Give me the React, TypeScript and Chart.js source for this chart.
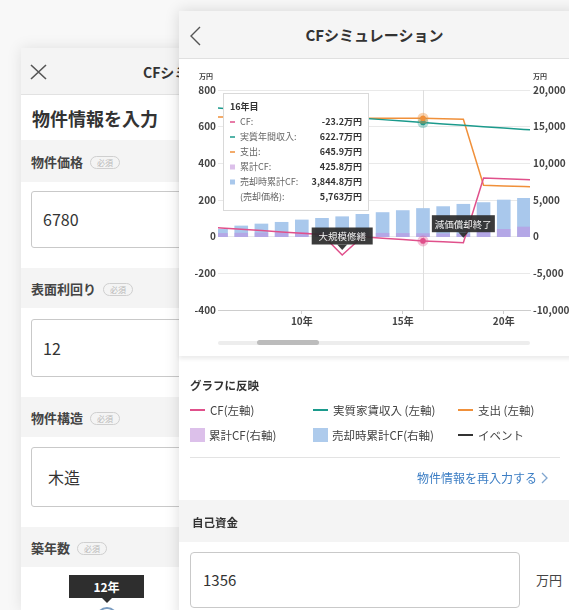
import React, { useEffect, useRef } from 'react';
import { Chart, registerables } from 'chart.js';

Chart.register(...registerables);

// ---- data ----
const years = [5, 6, 7, 8, 9, 10, 11, 12, 13, 14, 15, 16, 17, 18, 19, 20, 21, 22];
const rentalIncome = [707.7, 700.0, 692.3, 684.6, 676.9, 669.2, 661.5, 653.8, 646.1, 638.4, 630.5, 622.7, 615.2, 607.7, 600.2, 592.7, 585.2, 577.7];
const expenses = [653.7, 653.0, 652.3, 651.6, 650.9, 650.2, 649.5, 753.8, 646.1, 646.4, 646.5, 645.9, 643.2, 640.7, 280.2, 276.7, 273.2, 269.7];
const cashFlow = [54, 47, 40, 33, 26, 19, 12, -100, 0, -8, -16, -23.2, -28, -33, 320, 316, 312, 308];
const cumulativeCF = [396, 443, 483, 516, 542, 561, 573, 473, 473, 465, 449, 425.8, 397.8, 364.8, 684.8, 1000.8, 1312.8, 1620.8];
const saleCumulativeCF = [700, 1000, 1460, 1730, 1960, 2280, 2500, 2720, 3050, 3290, 3560, 3844.8, 4100, 4420, 4650, 5000, 5230, 5450];
const xTickYears = [10, 15, 20];
const eventYears = [12, 18];
const eventLabels = ['大規模修繕', '減価償却終了'];
const hoverYear = 16;
const hoverSalePrice = 5763;
const tooltipLabels = ['CF:', '実質年間収入:', '支出:', '累計CF:', '売却時累計CF:', '(売却価格):'];

const FONT = '"Noto Sans CJK JP", "Noto Sans", sans-serif';
const PINK = '#e0508b';
const TEAL = '#1b9a8c';
const ORANGE = '#f0903a';
const BLUE = '#a9c8ec';
const PURPLE = 'rgba(190,140,225,0.55)';

const fmt1 = (v: number) =>
  v.toLocaleString('en-US', { minimumFractionDigits: 1, maximumFractionDigits: 1 }) + '万円';

const overlayPlugin = {
  id: 'cfOverlay',
  beforeDatasetsDraw(chart: any) {
    const { ctx, chartArea } = chart;
    const x = chart.scales.x.getPixelForValue(hoverYear);
    ctx.save();
    ctx.strokeStyle = '#dedede';
    ctx.lineWidth = 1;
    ctx.beginPath();
    ctx.moveTo(Math.round(x) + 0.5, chartArea.top);
    ctx.lineTo(Math.round(x) + 0.5, chartArea.bottom);
    ctx.stroke();
    ctx.restore();
  },
  afterDatasetsDraw(chart: any) {
    const { ctx } = chart;
    const xs = chart.scales.x;
    const yL = chart.scales.yL;
    const hi = years.indexOf(hoverYear);
    const hx = xs.getPixelForValue(hoverYear);
    ctx.save();
    const dots = [
      { v: rentalIncome[hi], c: TEAL, h: 'rgba(27,154,140,0.35)' },
      { v: expenses[hi], c: ORANGE, h: 'rgba(240,144,58,0.4)' },
      { v: cashFlow[hi], c: PINK, h: 'rgba(224,80,139,0.35)' },
    ];
    dots.forEach((d) => {
      const y = yL.getPixelForValue(d.v);
      ctx.fillStyle = d.h;
      ctx.beginPath();
      ctx.arc(hx, y, 5.5, 0, Math.PI * 2);
      ctx.fill();
      ctx.fillStyle = d.c;
      ctx.beginPath();
      ctx.arc(hx, y, 2.8, 0, Math.PI * 2);
      ctx.fill();
    });
    // events
    ctx.font = `9.5px ${FONT}`;
    eventYears.forEach((yr, k) => {
      const i = years.indexOf(yr);
      const x = xs.getPixelForValue(yr);
      const y = yL.getPixelForValue(cashFlow[i]);
      const label = eventLabels[k];
      const tw = ctx.measureText(label).width;
      const bw = Math.max(61, tw + 6);
      const bh = 17;
      const bottom = y - 10.5;
      ctx.fillStyle = 'rgba(44,44,44,0.93)';
      ctx.fillRect(x - bw / 2, bottom - bh, bw, bh);
      ctx.beginPath();
      ctx.moveTo(x - 5, bottom);
      ctx.lineTo(x + 5, bottom);
      ctx.lineTo(x, bottom + 5.5);
      ctx.closePath();
      ctx.fill();
      ctx.fillStyle = '#f2f2f2';
      ctx.textAlign = 'center';
      ctx.textBaseline = 'middle';
      ctx.fillText(label, x, bottom - bh / 2 + 0.5);
    });
    ctx.restore();
  },
  afterDraw(chart: any) {
    const { ctx, chartArea } = chart;
    ctx.save();
    // unit labels
    ctx.font = `bold 7px ${FONT}`;
    ctx.fillStyle = '#444';
    ctx.textBaseline = 'middle';
    ctx.textAlign = 'center';
    ctx.fillText('万円', chartArea.left - 12, chartArea.top - 14);
    ctx.textAlign = 'left';
    ctx.fillText('万円', chartArea.right + 3, chartArea.top - 14);

    // tooltip
    const hi = years.indexOf(hoverYear);
    const bx = chartArea.left + 5;
    const by = chartArea.top + 3;
    const bw = 145;
    const bh = 117;
    ctx.fillStyle = '#ffffff';
    ctx.fillRect(bx, by, bw, bh);
    ctx.strokeStyle = '#d9d9d9';
    ctx.lineWidth = 1;
    ctx.strokeRect(bx + 0.5, by + 0.5, bw, bh);
    ctx.font = `bold 9px ${FONT}`;
    ctx.fillStyle = '#333';
    ctx.textAlign = 'left';
    ctx.fillText(`${hoverYear}年目`, bx + 7, by + 14);
    const rows = [
      { label: tooltipLabels[0], value: fmt1(cashFlow[hi]), color: PINK, kind: 'line' },
      { label: tooltipLabels[1], value: fmt1(rentalIncome[hi]), color: TEAL, kind: 'line' },
      { label: tooltipLabels[2], value: fmt1(expenses[hi]), color: ORANGE, kind: 'line' },
      { label: tooltipLabels[3], value: fmt1(cumulativeCF[hi]), color: '#dcc0ea', kind: 'box' },
      { label: tooltipLabels[4], value: fmt1(saleCumulativeCF[hi]), color: BLUE, kind: 'box' },
      { label: tooltipLabels[5], value: hoverSalePrice.toLocaleString('en-US') + '万円', color: '', kind: 'none' },
    ];
    rows.forEach((r, k) => {
      const y = by + 29 + k * 15;
      if (r.kind === 'line') {
        ctx.fillStyle = r.color;
        ctx.fillRect(bx + 7, y - 0.75, 5, 1.5);
      } else if (r.kind === 'box') {
        ctx.fillStyle = r.color;
        ctx.fillRect(bx + 7, y - 2.5, 5, 5);
      }
      ctx.font = `9px ${FONT}`;
      ctx.fillStyle = '#666';
      ctx.textAlign = 'left';
      ctx.fillText(r.label, bx + 17, y);
      ctx.font = `bold 9px ${FONT}`;
      ctx.fillStyle = '#333';
      ctx.textAlign = 'right';
      ctx.fillText(r.value, bx + bw - 6, y);
    });
    ctx.restore();
  },
};

const abs = (l: number, t: number, w: number, h: number, extra: any = {}) => ({
  position: 'absolute' as const,
  left: l,
  top: t,
  width: w,
  height: h,
  boxSizing: 'border-box' as const,
  ...extra,
});

function Badge() {
  return (
    <span
      style={{
        display: 'inline-block',
        marginLeft: 7,
        height: 13,
        lineHeight: '11px',
        padding: '0 6px',
        border: '1px solid #cfcfcf',
        borderRadius: 7,
        fontSize: 8,
        color: '#b8b8b8',
        fontWeight: 400,
        verticalAlign: 'middle',
        boxSizing: 'border-box',
      }}
    >
      必須
    </span>
  );
}

function BackSection({ top, h, label }: { top: number; h: number; label: string }) {
  return (
    <div style={abs(21, top, 360, h, { background: '#f4f4f4' })}>
      <div
        style={{
          position: 'absolute',
          left: 10,
          top: 0,
          height: h,
          lineHeight: `${h}px`,
          fontSize: 13,
          fontWeight: 700,
          color: '#444',
          whiteSpace: 'nowrap',
        }}
      >
        <span style={{ verticalAlign: 'middle' }}>{label}</span>
        <Badge />
      </div>
    </div>
  );
}

function BackInput({ top, h, text, pad }: { top: number; h: number; text: string; pad: number }) {
  return (
    <div
      style={abs(31, top, 320, h, {
        border: '1px solid #c9c9c9',
        borderRadius: 3,
        background: '#fff',
        paddingLeft: pad,
        lineHeight: `${h - 2}px`,
        fontSize: 16,
        color: '#333',
      })}
    >
      {text}
    </div>
  );
}

function LegendLine({ x, y, color, text }: { x: number; y: number; color: string; text: string }) {
  return (
    <>
      <div style={abs(x, y - 1, 15, 2, { background: color })} />
      <div style={abs(x + 20, y - 9, 140, 18, { fontSize: 11.5, lineHeight: '18px', color: '#444', whiteSpace: 'nowrap' })}>
        {text}
      </div>
    </>
  );
}

function LegendBox({ x, y, color, text }: { x: number; y: number; color: string; text: string }) {
  return (
    <>
      <div style={abs(x, y - 7, 15, 14, { background: color })} />
      <div style={abs(x + 19, y - 9, 140, 18, { fontSize: 11.5, lineHeight: '18px', color: '#444', whiteSpace: 'nowrap' })}>
        {text}
      </div>
    </>
  );
}

export default function App() {
  const canvasRef = useRef<HTMLCanvasElement>(null);

  useEffect(() => {
    const canvas = canvasRef.current;
    if (!canvas) return;
    Chart.defaults.font.family = FONT;
    const pts = (arr: number[]) => years.map((x, i) => ({ x, y: arr[i] }));
    const chart = new Chart(canvas, {
      type: 'bar',
      data: {
        datasets: [
          { type: 'line', label: 'CF', data: pts(cashFlow), borderColor: PINK, borderWidth: 1.5, pointRadius: 0, yAxisID: 'yL', order: 0, tension: 0 } as any,
          { type: 'line', label: '実質家賃収入', data: pts(rentalIncome), borderColor: TEAL, borderWidth: 1.5, pointRadius: 0, yAxisID: 'yL', order: 0, tension: 0 } as any,
          { type: 'line', label: '支出', data: pts(expenses), borderColor: ORANGE, borderWidth: 1.5, pointRadius: 0, yAxisID: 'yL', order: 0, tension: 0 } as any,
          { type: 'bar', label: '累計CF', data: pts(cumulativeCF), backgroundColor: PURPLE, yAxisID: 'yR', order: 1, grouped: false, barThickness: 13 } as any,
          { type: 'bar', label: '売却時累計CF', data: pts(saleCumulativeCF), backgroundColor: BLUE, yAxisID: 'yR', order: 2, grouped: false, barThickness: 13 } as any,
        ],
      },
      options: {
        responsive: false,
        animation: false,
        events: [],
        layout: { padding: { top: 30, bottom: 23, left: 0, right: 0 } },
        plugins: { legend: { display: false }, tooltip: { enabled: false } },
        scales: {
          x: {
            type: 'linear',
            min: 5.85,
            max: 21.3,
            offset: false,
            afterBuildTicks: (s: any) => {
              s.ticks = xTickYears.map((v) => ({ value: v }));
            },
            afterFit: (s: any) => {
              s.height = 22;
            },
            grid: { drawOnChartArea: false, drawTicks: true, tickLength: 4, color: '#cfcfcf', offset: false },
            border: { display: true, color: '#cdcdcd' },
            ticks: {
              callback: (v: any) => `${v}年`,
              font: { size: 10, weight: 'bold' },
              color: '#444',
              padding: 1,
              maxRotation: 0,
              autoSkip: false,
            },
          } as any,
          yL: {
            position: 'left',
            min: -400,
            max: 800,
            afterFit: (s: any) => {
              s.width = 38;
            },
            grid: { color: '#e9e9e9', drawTicks: false },
            border: { display: false },
            ticks: { stepSize: 200, padding: 2, font: { size: 10, weight: 'bold' }, color: '#444' },
          } as any,
          yR: {
            position: 'right',
            min: -10000,
            max: 20000,
            afterFit: (s: any) => {
              s.width = 39;
            },
            grid: { display: false, drawTicks: false },
            border: { display: false },
            ticks: {
              stepSize: 5000,
              padding: 3,
              font: { size: 10, weight: 'bold' },
              color: '#444',
              callback: (v: any) => Number(v).toLocaleString('en-US'),
            },
          } as any,
        },
      },
      plugins: [overlayPlugin as any],
    });
    return () => chart.destroy();
  }, []);

  return (
    <div
      style={{
        position: 'fixed',
        left: 0,
        top: 0,
        width: 569,
        height: 610,
        overflow: 'hidden',
        background: '#f8f8f8',
        fontFamily: FONT,
      }}
    >
      {/* back screen */}
      <div style={abs(21, 48, 360, 562, { background: '#fff', boxShadow: '0 0 14px rgba(0,0,0,0.10)' })} />
      <div style={abs(21, 48, 360, 47, { background: '#f4f4f4', borderBottom: '1px solid #e2e2e2' })} />
      <svg style={abs(30, 64, 17, 16)} viewBox="0 0 17 16">
        <path d="M1 1 L16 15 M16 1 L1 15" stroke="#555" strokeWidth="1.6" fill="none" />
      </svg>
      <div style={abs(143, 60, 220, 24, { fontSize: 14, fontWeight: 700, color: '#333', lineHeight: '24px', whiteSpace: 'nowrap' })}>
        CFシミュレーション
      </div>
      <div style={abs(32, 105, 220, 26, { fontSize: 18, fontWeight: 700, color: '#333', lineHeight: '26px', whiteSpace: 'nowrap' })}>
        物件情報を入力
      </div>
      <BackSection top={140} h={42} label="物件価格" />
      <BackInput top={191} h={57} text="6780" pad={11} />
      <BackSection top={268} h={40} label="表面利回り" />
      <BackInput top={319} h={58} text="12" pad={11} />
      <BackSection top={397} h={40} label="物件構造" />
      <BackInput top={447} h={60} text="木造" pad={16} />
      <BackSection top={527} h={40} label="築年数" />
      <div style={abs(69, 575, 75, 23, { background: '#2e2e2e', color: '#fff', fontSize: 12, fontWeight: 700, lineHeight: '23px', textAlign: 'center' })}>
        12年
      </div>
      <svg style={abs(101, 597, 12, 7)} viewBox="0 0 12 7">
        <path d="M0 0 L12 0 L6 6 Z" fill="#2e2e2e" />
      </svg>
      <div style={abs(96, 607, 22, 22, { borderRadius: 11, border: '2px solid #7b9dc2', background: '#fff' })} />

      {/* front screen */}
      <div style={abs(179, 11, 400, 610, { background: '#fff', boxShadow: '0 0 14px rgba(0,0,0,0.14)' })} />
      <div style={abs(179, 11, 400, 48, { background: '#f5f5f5', borderBottom: '1px solid #e0e0e0' })} />
      <svg style={abs(189, 26, 13, 20)} viewBox="0 0 13 20">
        <path d="M11 1 L2 10 L11 19" stroke="#555" strokeWidth="1.4" fill="none" />
      </svg>
      <div style={abs(179, 23, 391, 24, { textAlign: 'center', fontSize: 15, fontWeight: 700, lineHeight: '24px', color: '#333', whiteSpace: 'nowrap' })}>
        CFシミュレーション
      </div>
      <div style={abs(179, 59, 400, 297, { background: '#fff', boxShadow: '0 3px 4px rgba(0,0,0,0.08)' })} />
      <canvas ref={canvasRef} width={389} height={295} style={{ position: 'absolute', left: 180, top: 60, width: 389, height: 295 }} />
      <div style={abs(218, 341, 312, 4, { background: '#ededed', borderRadius: 2 })} />
      <div style={abs(257, 340, 62, 5, { background: '#bcbcbc', borderRadius: 3 })} />

      {/* legend */}
      <div style={abs(190, 376, 200, 18, { fontSize: 11.5, fontWeight: 700, color: '#333', lineHeight: '18px' })}>グラフに反映</div>
      <LegendLine x={190} y={410} color={PINK} text="CF(左軸)" />
      <LegendLine x={313} y={410} color={TEAL} text="実質家賃収入 (左軸)" />
      <LegendLine x={458} y={410} color={ORANGE} text="支出 (左軸)" />
      <LegendBox x={190} y={435} color="#dcc0ea" text="累計CF(右軸)" />
      <LegendBox x={313} y={435} color="#aecbec" text="売却時累計CF(右軸)" />
      <LegendLine x={458} y={435} color="#333" text="イベント" />
      <div style={abs(190, 457, 370, 1, { background: '#e3e3e3' })} />
      <div style={abs(337, 469, 200, 18, { fontSize: 12, color: '#3b7dc4', lineHeight: '18px', textAlign: 'right', whiteSpace: 'nowrap' })}>
        物件情報を再入力する
      </div>
      <svg style={abs(541, 472, 8, 12)} viewBox="0 0 8 12">
        <path d="M1 1 L6 6 L1 11" stroke="#7fa5cf" strokeWidth="1.3" fill="none" />
      </svg>

      {/* self funds */}
      <div style={abs(179, 500, 400, 42, { background: '#f4f4f4' })} />
      <div style={abs(192, 512, 150, 20, { fontSize: 11.5, fontWeight: 700, color: '#333', lineHeight: '20px' })}>自己資金</div>
      <div
        style={abs(190, 552, 330, 56, {
          border: '1px solid #c9c9c9',
          borderRadius: 4,
          background: '#fff',
          paddingLeft: 12,
          fontSize: 15,
          lineHeight: '54px',
          color: '#333',
        })}
      >
        1356
      </div>
      <div style={abs(536, 570, 40, 20, { fontSize: 13, color: '#444', lineHeight: '20px' })}>万円</div>
    </div>
  );
}
